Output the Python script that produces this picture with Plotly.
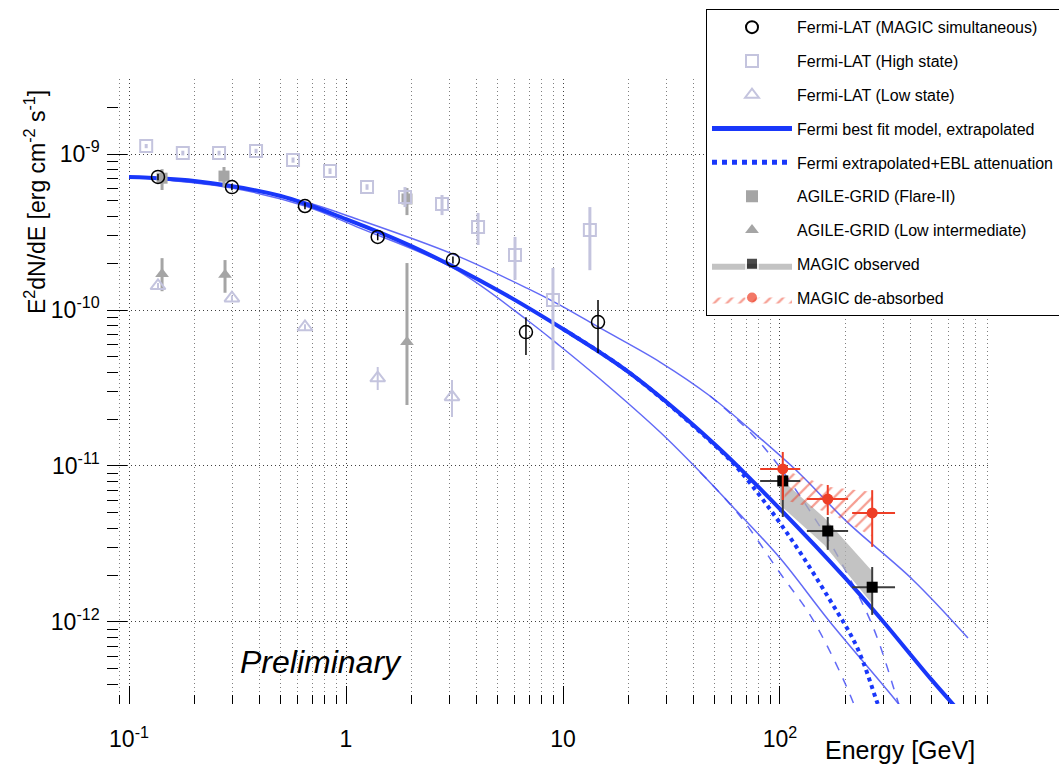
import numpy as np
import plotly.graph_objects as go

# ---------------- data ----------------
# Fermi-LAT (MAGIC simultaneous)
fermi_E = [0.136, 0.298, 0.647, 1.40, 3.11, 6.75, 14.5]
fermi_F = [7.13e-10, 6.14e-10, 4.64e-10, 2.94e-10, 2.09e-10, 7.22e-11, 8.37e-11]
fermi_hi = [7.45e-10, 6.45e-10, 4.88e-10, 3.10e-10, 2.20e-10, 9.0e-11, 1.16e-10]
fermi_lo = [6.80e-10, 5.85e-10, 4.42e-10, 2.80e-10, 1.99e-10, 5.15e-11, 5.3e-11]

# Fermi-LAT (High state)
high_E = [0.120, 0.177, 0.260, 0.385, 0.570, 0.844, 1.25, 1.87, 2.77, 4.06, 6.01, 8.99, 13.3]
high_F = [1.125e-9, 1.015e-9, 1.015e-9, 1.045e-9, 9.15e-10, 7.78e-10, 6.14e-10,
          5.30e-10, 4.78e-10, 3.40e-10, 2.25e-10, 1.16e-10, 3.26e-10]
high_hi = [1.16e-9, 1.05e-9, 1.05e-9, 1.08e-9, 9.5e-10, 8.1e-10, 6.4e-10,
           6.14e-10, 5.46e-10, 4.19e-10, 2.94e-10, 1.86e-10, 4.57e-10]
high_lo = [1.09e-9, 0.98e-9, 0.98e-9, 1.01e-9, 8.8e-10, 7.45e-10, 5.9e-10,
           4.57e-10, 4.06e-10, 2.61e-10, 1.56e-10, 4.12e-11, 1.80e-10]

# Fermi-LAT (Low state)
low_E = [0.136, 0.298, 0.647, 1.40, 3.08]
low_F = [1.43e-10, 1.19e-10, 7.78e-11, 3.66e-11, 2.77e-11]
low_hi = [1.49e-10, 1.24e-10, 8.1e-11, 4.31e-11, 3.56e-11]
low_lo = [1.37e-10, 1.14e-10, 7.45e-11, 3.07e-11, 2.06e-11]

# AGILE-GRID (Flare-II)
agf_E = [0.142, 0.274, 1.91]
agf_F = [7.0e-10, 7.22e-10, 5.15e-10]
agf_hi = [8.0e-10, 8.26e-10, 6.05e-10]
agf_lo = [5.88e-10, 6.14e-10, 4.06e-10]

# AGILE-GRID (Low intermediate)
agl_E = [0.142, 0.277, 1.91]
agl_F = [1.70e-10, 1.68e-10, 6.24e-11]
agl_hi = [2.15e-10, 2.09e-10, 2.0e-10]
agl_lo = [1.32e-10, 1.29e-10, 2.46e-11]

# MAGIC observed / de-absorbed
magic_E = [103, 166, 266]
magic_Elo = [81, 133, 215]
magic_Ehi = [124, 206, 339]
obs_F = [8.02e-12, 3.83e-12, 1.67e-12]
obs_hi = [9.42e-12, 4.71e-12, 2.25e-12]
obs_lo = [4.71e-12, 2.90e-12, 1.11e-12]
deabs_F = [9.57e-12, 6.14e-12, 5.0e-12]
deabs_hi = [1.23e-11, 7.55e-12, 7.0e-12]
deabs_lo = [6.05e-12, 4.85e-12, 3.03e-12]

# MAGIC butterflies (polygon outlines)
obs_band_E = [100, 160, 268, 268, 160, 100]
obs_band_F = [8.38e-12, 4.65e-12, 2.09e-12, 1.29e-12, 3.12e-12, 5.62e-12]
deabs_band_E = [105, 170, 268, 268, 170, 105]
deabs_band_F = [9.42e-12, 7.33e-12, 6.81e-12, 3.51e-12, 5.0e-12, 6.05e-12]

# Fermi best-fit model, extrapolated (thick) and its bounds
fit_E = [0.1, 0.2, 0.5, 1, 2, 5, 10, 20, 50, 100, 200, 300, 500, 735]
fit_F = [7.12e-10, 6.71e-10, 5.38e-10, 3.83e-10, 2.57e-10, 1.34e-10, 7.55e-11,
         4.01e-11, 1.38e-11, 5.3e-12, 1.91e-12, 1.0e-12, 4.25e-13, 2.32e-13]
up_E = [0.1032, 0.2984, 0.6474, 1.160, 3.112, 6.826, 9.687, 14.81, 27.99, 47.59,
        80.9, 123.7, 203.6, 410, 735]
up_F = [7.12e-10, 6.14e-10, 4.92e-10, 3.77e-10, 2.28e-10, 1.38e-10, 1.076e-10,
        7.67e-11, 4.64e-11, 2.81e-11, 1.51e-11, 8.89e-12, 4.38e-12, 1.86e-12, 7.89e-13]
lowb_E = [0.1032, 0.2984, 0.6474, 1.160, 3.112, 6.826, 9.687, 14.81, 27.99, 42.8,
          60.7, 100, 170, 346, 491]
lowb_F = [7.12e-10, 6.05e-10, 4.64e-10, 3.35e-10, 1.86e-10, 8.63e-11, 5.88e-11,
          3.61e-11, 1.65e-11, 9.16e-12, 5.46e-12, 2.57e-12, 1.0e-12, 3.07e-13, 1.63e-13]

# Fermi extrapolated + EBL attenuation (thick dotted) and bounds (dashed)
ebl_E = [10, 20, 50, 65.4, 107.7, 170, 226, 280, 321]
ebl_F = [7.55e-11, 4.01e-11, 1.36e-11, 9.3e-12, 3.72e-12, 1.38e-12, 6.92e-13, 3.07e-13, 1.75e-13]
eblup_E = [47.59, 67.5, 92.8, 148.1, 189, 268.3, 350, 397]
eblup_F = [2.81e-11, 1.83e-11, 1.12e-11, 4.38e-12, 2.49e-12, 9.29e-13, 3.07e-13, 1.75e-13]
ebllo_E = [42.8, 65.4, 100, 142, 217, 246.5]
ebllo_F = [9.16e-12, 4.78e-12, 2.06e-12, 1.03e-12, 3.07e-13, 1.75e-13]

x_tickvals = [0.1, 1, 10, 100]
x_ticktext = ["10<sup>-1</sup>", "1", "10", "10<sup>2</sup>"]
y_tickvals = [1e-12, 1e-11, 1e-10, 1e-9]
y_ticktext = ["10<sup>-12</sup>", "10<sup>-11</sup>", "10<sup>-10</sup>", "10<sup>-9</sup>"]

# ---------------- styles ----------------
BLUE = "rgb(25,55,250)"
THIN = "rgba(70,80,245,0.85)"
LAV = "rgb(196,196,222)"
GRAY = "rgb(165,165,165)"
RED = "rgb(238,62,38)"
FONT = "Liberation Sans, Arial, Helvetica, sans-serif"


def err(v, hi, lo):
    v = np.array(v); hi = np.array(hi); lo = np.array(lo)
    return (hi - v).tolist(), (v - lo).tolist()


fig = go.Figure()

# ---- legend-ordered traces ----
p, m = err(fermi_F, fermi_hi, fermi_lo)
fig.add_trace(go.Scatter(
    x=fermi_E, y=fermi_F, mode="markers", name="Fermi-LAT (MAGIC simultaneous)",
    legendgroup="g1", zorder=6,
    marker=dict(symbol="circle-open", size=13, color="black", line=dict(width=1.5)),
    error_y=dict(type="data", symmetric=False, array=p, arrayminus=m,
                 color="black", thickness=1.5, width=0)))

p, m = err(high_F, high_hi, high_lo)
fig.add_trace(go.Scatter(
    x=high_E, y=high_F, mode="markers", name="Fermi-LAT (High state)",
    legendgroup="g2", zorder=4,
    marker=dict(symbol="square-open", size=12, color=LAV, line=dict(width=2)),
    error_y=dict(type="data", symmetric=False, array=p, arrayminus=m,
                 color=LAV, thickness=3, width=0)))

p, m = err(low_F, low_hi, low_lo)
fig.add_trace(go.Scatter(
    x=low_E, y=low_F, mode="markers", name="Fermi-LAT (Low state)",
    legendgroup="g3", zorder=4,
    marker=dict(symbol="triangle-up-open", size=13, color=LAV, line=dict(width=2)),
    error_y=dict(type="data", symmetric=False, array=p, arrayminus=m,
                 color=LAV, thickness=2, width=0)))

fig.add_trace(go.Scatter(
    x=fit_E, y=fit_F, mode="lines", name="Fermi best fit model, extrapolated",
    legendgroup="g4", zorder=2, line=dict(color=BLUE, width=4, shape="spline")))

fig.add_trace(go.Scatter(
    x=ebl_E, y=ebl_F, mode="lines", name="Fermi extrapolated+EBL attenuation",
    legendgroup="g5", zorder=2, line=dict(color=BLUE, width=4, dash="dot", shape="spline")))

p, m = err(agf_F, agf_hi, agf_lo)
fig.add_trace(go.Scatter(
    x=agf_E, y=agf_F, mode="markers", name="AGILE-GRID (Flare-II)",
    legendgroup="g6", zorder=3,
    marker=dict(symbol="square", size=11, color=GRAY),
    error_y=dict(type="data", symmetric=False, array=p, arrayminus=m,
                 color=GRAY, thickness=3, width=0)))

p, m = err(agl_F, agl_hi, agl_lo)
fig.add_trace(go.Scatter(
    x=agl_E, y=agl_F, mode="markers", name="AGILE-GRID (Low intermediate)",
    legendgroup="g7", zorder=3,
    marker=dict(symbol="triangle-up", size=12, color=GRAY),
    error_y=dict(type="data", symmetric=False, array=p, arrayminus=m,
                 color=GRAY, thickness=3, width=0)))

# MAGIC observed butterfly (legend shows box + square)
tiny = [0.0001] * len(obs_band_E)
fig.add_trace(go.Scatter(
    x=obs_band_E, y=obs_band_F, mode="markers", fill="toself", name="MAGIC observed",
    legendgroup="g8", zorder=3, fillcolor="rgba(175,175,175,0.75)",
    line=dict(width=0, color="black"),
    marker=dict(symbol="square", size=tiny, color="black")))

fig.add_trace(go.Scatter(
    x=deabs_band_E, y=deabs_band_F, mode="markers", fill="toself", name="MAGIC de-absorbed",
    legendgroup="g9", zorder=3, fillcolor="rgba(255,255,255,0)",
    fillpattern=dict(shape="/", fgcolor=RED, bgcolor="rgba(255,255,255,0)", size=9, solidity=0.25),
    line=dict(width=0, color=RED),
    marker=dict(symbol="circle", size=tiny, color=RED)))

# ---- non-legend traces ----
fig.add_trace(go.Scatter(x=up_E, y=up_F, mode="lines", showlegend=False, legendgroup="g4",
                         zorder=1, line=dict(color=THIN, width=1.5, shape="spline")))
fig.add_trace(go.Scatter(x=lowb_E, y=lowb_F, mode="lines", showlegend=False, legendgroup="g4",
                         zorder=1, line=dict(color=THIN, width=1.5, shape="spline")))
fig.add_trace(go.Scatter(x=eblup_E, y=eblup_F, mode="lines", showlegend=False, legendgroup="g5",
                         zorder=1, line=dict(color=THIN, width=1.5, dash="dash", shape="spline")))
fig.add_trace(go.Scatter(x=ebllo_E, y=ebllo_F, mode="lines", showlegend=False, legendgroup="g5",
                         zorder=1, line=dict(color=THIN, width=1.5, dash="dash", shape="spline")))

p, m = err(obs_F, obs_hi, obs_lo)
xp, xm = err(magic_E, magic_Ehi, magic_Elo)
fig.add_trace(go.Scatter(
    x=magic_E, y=obs_F, mode="markers", showlegend=False, legendgroup="g8", zorder=7,
    marker=dict(symbol="square", size=11, color="black"),
    error_y=dict(type="data", symmetric=False, array=p, arrayminus=m,
                 color="rgb(60,60,60)", thickness=2, width=0),
    error_x=dict(type="data", symmetric=False, array=xp, arrayminus=xm,
                 color="rgb(60,60,60)", thickness=2, width=0)))

p, m = err(deabs_F, deabs_hi, deabs_lo)
fig.add_trace(go.Scatter(
    x=magic_E, y=deabs_F, mode="markers", showlegend=False, legendgroup="g9", zorder=8,
    marker=dict(symbol="circle", size=11, color=RED),
    error_y=dict(type="data", symmetric=False, array=p, arrayminus=m,
                 color=RED, thickness=2, width=0),
    error_x=dict(type="data", symmetric=False, array=xp, arrayminus=xm,
                 color=RED, thickness=2, width=0)))

# ---------------- axes / layout ----------------
x_minor = [d * 10.0 ** n for n in range(-2, 3) for d in range(2, 10)]
y_minor = [d * 10.0 ** n for n in range(-13, -8) for d in range(2, 10)]

fig.update_layout(
    width=1059, height=768,
    margin=dict(l=107, r=68, t=79, b=64, autoexpand=False),
    plot_bgcolor="white", paper_bgcolor="white",
    font=dict(family=FONT, color="black"),
    showlegend=True,
    legend=dict(x=0.6776, y=1.1116, xanchor="left", yanchor="top",
                bgcolor="white", bordercolor="black", borderwidth=1,
                font=dict(size=16, family=FONT, color="black"),
                traceorder="grouped", tracegroupgap=10, itemsizing="constant",
                itemwidth=80),
)

fig.update_xaxes(
    type="log", range=[-1.1014, 2.9724],
    showline=True, linecolor="black", linewidth=1.5, mirror=True,
    ticks="inside", ticklen=18, tickwidth=1, tickcolor="black",
    tickmode="array", tickvals=x_tickvals, ticktext=x_ticktext,
    tickfont=dict(size=23, family=FONT), ticklabelstandoff=14,
    showgrid=True, gridcolor="rgba(0,0,0,0.75)", griddash="1px,3px", gridwidth=1,
    zeroline=False,
    minor=dict(tickmode="array", tickvals=x_minor, ticks="inside", ticklen=9,
               tickcolor="black", showgrid=True, gridcolor="rgba(0,0,0,0.5)",
               griddash="1px,3px", gridwidth=1),
)
fig.update_yaxes(
    type="log", range=[-12.526, -8.519],
    showline=True, linecolor="black", linewidth=1.5, mirror=True,
    ticks="inside", ticklen=20, tickwidth=1, tickcolor="black",
    tickmode="array", tickvals=y_tickvals, ticktext=y_ticktext,
    tickfont=dict(size=23, family=FONT), ticklabelstandoff=1,
    showgrid=True, gridcolor="rgba(0,0,0,0.75)", griddash="1px,3px", gridwidth=1,
    zeroline=False,
    minor=dict(tickmode="array", tickvals=y_minor, ticks="inside", ticklen=11,
               tickcolor="black", showgrid=False),
)

fig.add_annotation(text="E<sup>2</sup>dN/dE [erg cm<sup>-2</sup> s<sup>-1</sup>]",
                   xref="paper", yref="paper", x=-0.0814, y=0.9856, xanchor="center",
                   yanchor="top", textangle=-90, showarrow=False,
                   font=dict(size=23, family=FONT))
fig.add_annotation(text="Energy [GeV]", xref="paper", yref="paper",
                   x=0.984, y=-0.0736, xanchor="right", yanchor="middle",
                   showarrow=False, font=dict(size=25, family=FONT))
fig.add_annotation(text="<i>Preliminary</i>", xref="paper", yref="paper",
                   x=0.242, y=0.0672, xanchor="center", yanchor="middle",
                   showarrow=False, font=dict(size=32, family=FONT))

fig.write_html("out.html")
